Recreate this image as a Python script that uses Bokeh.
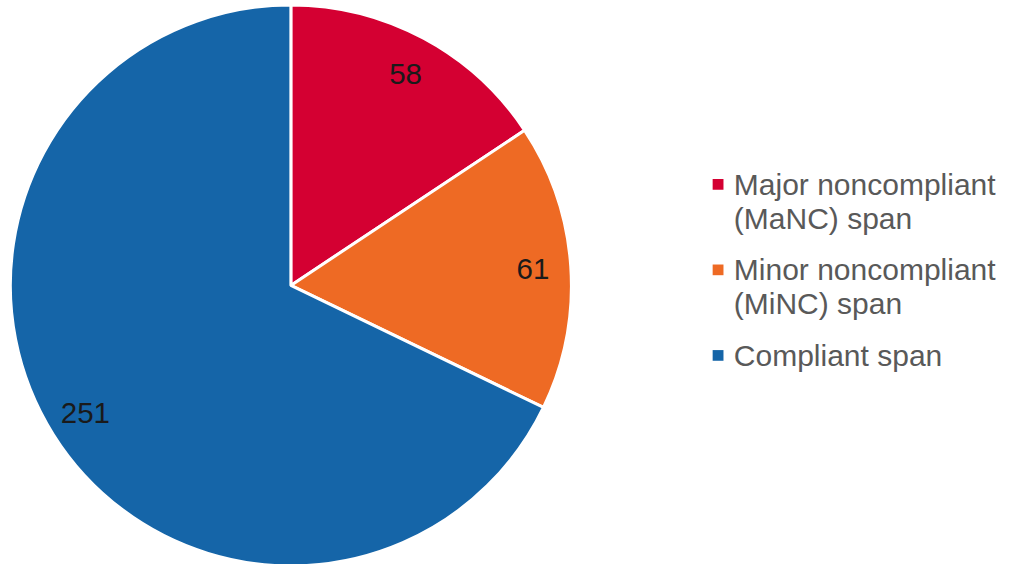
import math
from bokeh.plotting import figure
from bokeh.models import Range1d, ColumnDataSource
from bokeh.core.properties import value
from bokeh.embed import file_html
from bokeh.resources import INLINE

categories = ["Major noncompliant\n(MaNC) span", "Minor noncompliant\n(MiNC) span", "Compliant span"]
counts = [58, 61, 251]
colors = ["#D40032", "#EE6A24", "#1565A8"]

# figure maps the full 1020x580 reference frame onto the available area
W, H = 1004, 564
RW, RH = 1020, 580
p = figure(width=W, height=H, output_backend="svg", toolbar_location=None,
           x_range=Range1d(0, RW), y_range=Range1d(0, RH),
           min_border=0, outline_line_color=None)
p.axis.visible = False
p.grid.visible = False
p.background_fill_color = "white"

def Y(ref_y):
    return RH - ref_y

cx, cy, R = 295, Y(293), 285
total = sum(counts)
starts, ends, mids = [], [], []
cum = 0
for c in counts:
    a0 = math.pi / 2 - 2 * math.pi * cum / total
    cum += c
    a1 = math.pi / 2 - 2 * math.pi * cum / total
    starts.append(a0)
    ends.append(a1)
    mids.append((a0 + a1) / 2)

src = ColumnDataSource(dict(start=starts, end=ends, color=colors))
p.wedge(x=cx, y=cy, radius=R, start_angle="start", end_angle="end", direction="clock",
        fill_color="color", line_color="white", line_width=3, source=src)

lr = 0.865 * R
p.text(x=[cx + lr * math.cos(m) for m in mids], y=[cy + lr * math.sin(m) for m in mids],
       text=[str(c) for c in counts], text_align="center", text_baseline="middle",
       text_font=value("Liberation Sans"), text_font_size="29.5px", text_color="#1a1a1a")

# legend
sq_x = 729
txt_x = 745
entry_tops = [189, 277, 365]
line_gap = 35
lx, ly, lt = [], [], []
for top, lab in zip(entry_tops, categories):
    for i, line in enumerate(lab.split("\n")):
        lx.append(txt_x)
        ly.append(Y(top + i * line_gap))
        lt.append(line)
p.text(x=lx, y=ly, text=lt, text_align="left", text_baseline="middle",
       text_font=value("Liberation Sans"), text_font_size="30px", text_color="#595959")
p.rect(x=[sq_x] * 3, y=[Y(t) for t in entry_tops], width=11, height=11,
       fill_color=colors, line_color=None)

open("out.html", "w").write(file_html(p, INLINE))
